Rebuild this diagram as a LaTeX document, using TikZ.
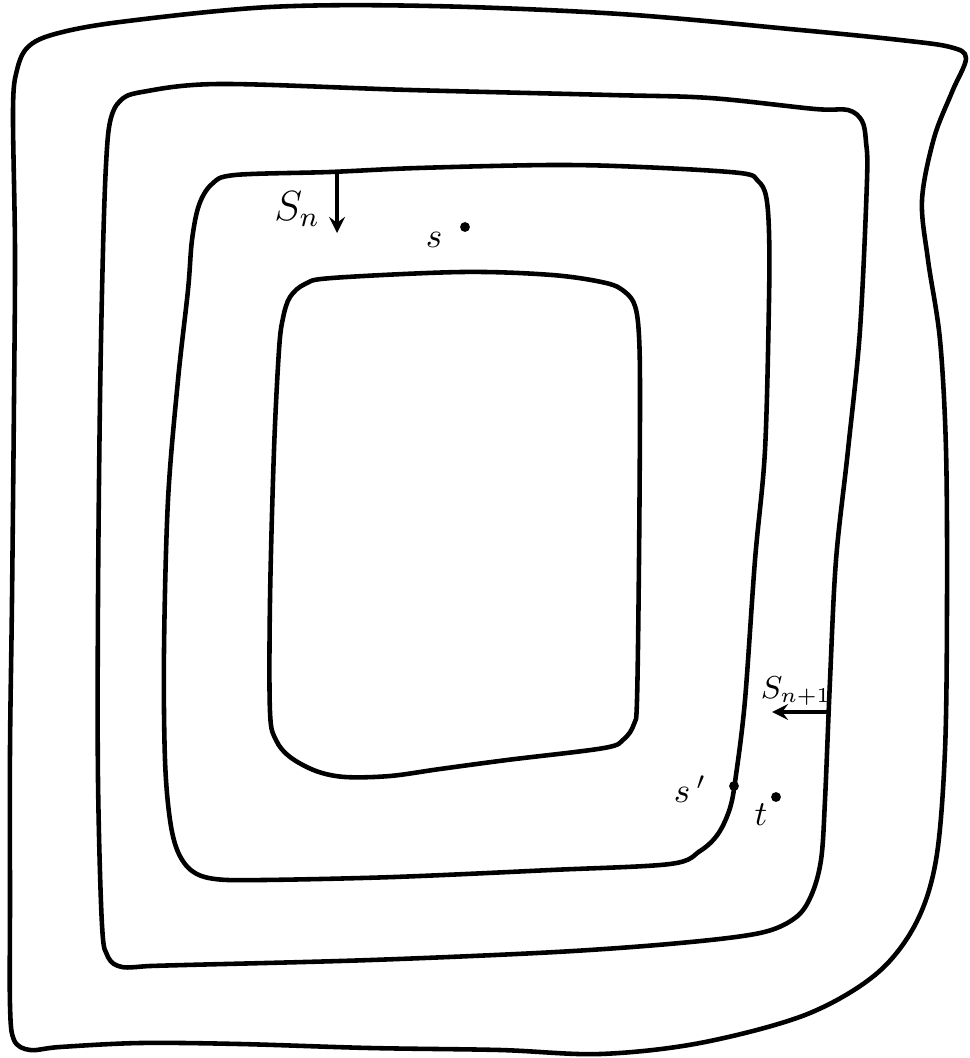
\documentclass[tikz,border=0pt]{standalone}
\usepackage{tikz}

\begin{document}
\begin{tikzpicture}[x=0.01cm,y=-0.01cm,
  contour/.style={line width=1.3pt,line join=round},
  dot/.style={circle,fill,inner sep=0pt,minimum size=2.8pt},
  lbl/.style={inner sep=1pt},
  flow/.style={line width=1pt,-stealth}]
\path[use as bounding box] (0,0) rectangle (969,1058);
% outer level set
\draw[contour] plot[smooth cycle,tension=0.55] coordinates {
  (13,110) (17,70) (28,47) (55,34) (120,22) (270,7) (430,6) (620,14)
  (800,30) (900,40) (950,47) (966,58) (952,92) (934,138) (922,200)
  (928,260) (940,340) (946,450) (947,600) (945,750) (936,860) (915,925)
  (875,975) (805,1015) (700,1043) (600,1054) (500,1050) (370,1048)
  (240,1044) (140,1043) (60,1047) (30,1050) (14,1040) (10,1005)
  (10,900) (10,750) (12,600) (14,400) (15,250)};
% S_{n+1}
\draw[contour] plot[smooth cycle,tension=0.55] coordinates {
  (106,165) (110,122) (120,101) (142,92) (220,84) (410,90) (610,95)
  (710,98) (815,109) (848,110) (862,121) (866,142) (867,180) (860,330)
  (848,450) (836,560) (830,680) (825,800) (821,860) (811,896) (795,918)
  (760,933) (680,943) (556,952) (371,960) (185,965) (150,966) (122,967)
  (108,957) (102,925) (98,780) (98,600) (100,400) (103,250)};
% S_n
\draw[contour] plot[smooth cycle,tension=0.55] coordinates {
  (188,290) (192,240) (199,205) (212,184) (235,175) (330,172) (418,168)
  (552,165) (641,167) (740,173) (758,181) (766,196) (769,232) (769,300)
  (765,450) (755,560) (745,700) (736,775) (730,808) (718,834) (700,851)
  (670,864) (551,870) (394,877) (263,880) (215,879) (192,871) (178,852)
  (170,820) (165,760) (164,650) (168,500) (178,380)};
% innermost
\draw[contour] plot[smooth cycle,tension=0.55] coordinates {
  (279,350) (283,318) (290,297) (305,284) (332,278) (462,272) (552,275)
  (606,283) (625,292) (635,306) (639,336) (640,400) (639,560) (637,700)
  (634,724) (624,739) (604,748) (507,760) (440,769) (390,776) (345,777)
  (316,771) (290,757) (276,740) (270,712) (270,600) (274,450)};

\coordinate (sn top) at (337,172);
\coordinate (sn tip) at (337,233);
\draw[flow] (sn top) -- (sn tip);
\node[lbl] (sn) at (297,209) {\large $S_n$};

\coordinate (snn start) at (829,712);
\coordinate (snn tip) at (772,712);
\draw[flow] (snn start) -- (snn tip);
\node[lbl] (snn) at (796,691) {\small $S_{n+1}$};

\node[dot] (s dot) at (465,227) {};
\node[lbl] (s) at (434,240) {$s$};

\node[dot] (s2 dot) at (734,786) {};
\node[lbl] (s2) at (690,789) {$s\,'$};

\node[dot] (t dot) at (776,797) {};
\node[lbl] (t) at (761,815) {$t$};
\end{tikzpicture}
\end{document}
